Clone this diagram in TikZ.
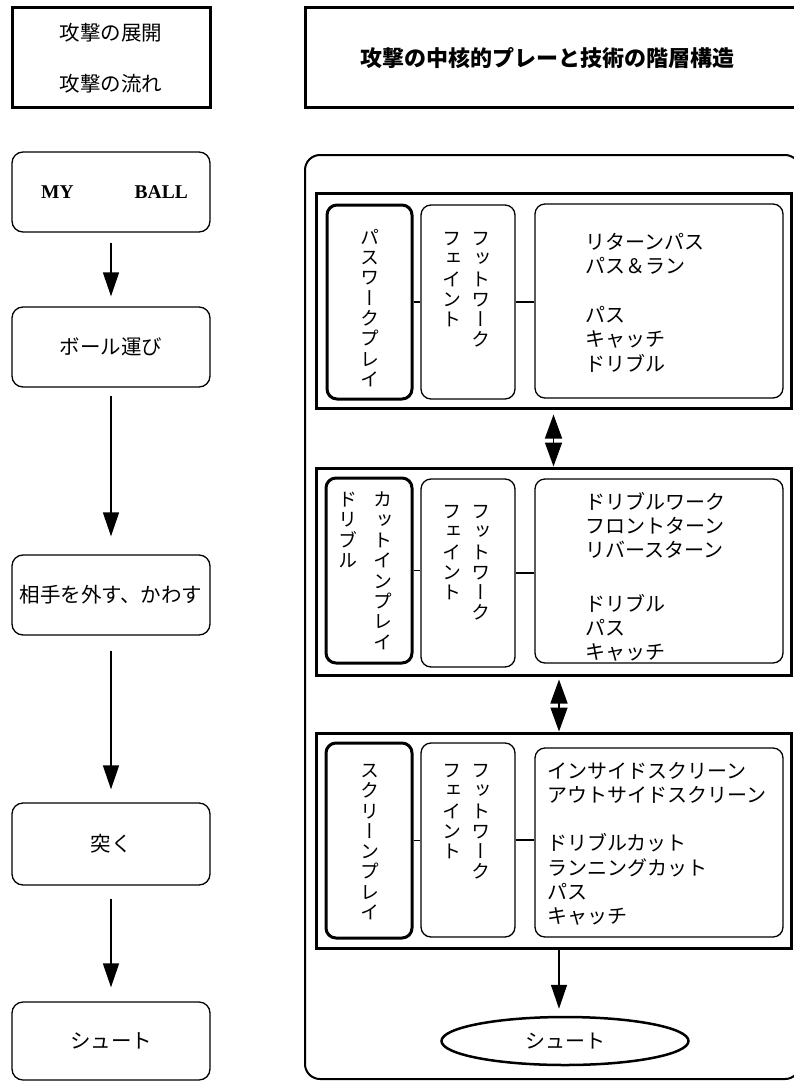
\documentclass[tikz,border=0pt]{standalone}
\usepackage{fontspec}
\setmainfont{Noto Sans CJK JP}
\newfontfamily\vfont[RawFeature=+vert]{Noto Sans CJK JP}
\newfontfamily\serifb{Liberation Serif}
\usetikzlibrary{arrows.meta,shapes.geometric}
\begin{document}
\begin{tikzpicture}[x=1pt,y=-1pt,
  frame/.style={draw, line width=3pt, inner sep=0pt},
  lbox/.style={draw, line width=1.3pt, rounded corners=11pt, inner sep=0pt, minimum width=198, font=\fontsize{20.5}{24}\selectfont},
  thinbox/.style={draw, line width=1.3pt, rounded corners=10pt, inner sep=0pt},
  thickbox/.style={draw, line width=3pt, rounded corners=10pt, inner sep=0pt},
  group/.style={draw, line width=3pt, inner sep=0pt, minimum width=475},
  link/.style={line width=1.3pt},
  flow/.style={-{Triangle[length=24pt,width=16pt]}, line width=1.5pt},
  dbl/.style={{Triangle[length=24pt,width=17pt]}-{Triangle[length=24pt,width=17pt]}, line width=1.5pt},
  vtext/.style={font=\vfont\fontsize{19}{20.3}\selectfont, align=center, inner sep=0pt, anchor=north},
  ltext/.style={font=\fontsize{20}{24.3}\selectfont, align=left, inner sep=0pt, anchor=north west},
  txt/.style={inner sep=0pt}
]
\useasboundingbox (0,0) rectangle (794,1081);
\clip (0,0) rectangle (794,1081);

% top headers
\node[frame, minimum width=198, minimum height=99] (T1) at (111,57.5) {};
\node[txt, align=center, font=\fontsize{20.5}{51}\selectfont] (T1t) at (111,58.5) {攻撃の展開\\攻撃の流れ};
\node[frame, minimum width=495, minimum height=99] (T2) at (552.5,57.5) {};
\node[txt, font=\bfseries\fontsize{22}{26}\selectfont] (T2t) at (547,58) {攻撃の中核的プレーと技術の階層構造};

% left flow
\node[lbox, minimum height=80] (L1) at (111,192) {\serifb\bfseries\fontsize{19.5}{22}\selectfont\hspace{7pt}MY\hspace{61pt}BALL};
\node[lbox, minimum height=80] (L2) at (111,347) {ボール運び};
\node[lbox, minimum height=80] (L3) at (111,595) {相手を外す、かわす};
\node[lbox, minimum height=82] (L4) at (111,844) {突く};
\node[lbox, minimum height=78] (L5) at (111,1041) {シュート};
\draw[flow, shorten <=10pt, shorten >=10pt] (L1) -- (L2);
\draw[flow, shorten <=8pt, shorten >=18pt] (L2) -- (L3);
\draw[flow, shorten <=15pt, shorten >=13pt] (L3) -- (L4);
\draw[flow, shorten <=13pt, shorten >=14pt] (L4) -- (L5);

% outer container
\draw[line width=2pt, rounded corners=15pt] (305,155) rectangle (800,1079);

% group 1
\node[group, minimum height=215] (G1) at (553.5,300.5) {};
\node[thickbox, minimum width=85, minimum height=194] (A1) at (369.5,302) {};
\node[thinbox, minimum width=94, minimum height=194] (B1) at (468,302) {};
\node[thinbox, minimum width=248, minimum height=194] (C1) at (659,301) {};
\draw[link] (A1.east) -- (A1.east -| B1.west);
\draw[link] (B1.east) -- (B1.east -| C1.west);
\node[vtext] (A1t) at (370,229) {パ\\ス\\ワ\\ー\\ク\\プ\\レ\\イ};
\node[vtext] (B1a) at (481,232) {フ\\ッ\\ト\\ワ\\ー\\ク};
\node[vtext] (B1b) at (452,232) {フ\\ェ\\イ\\ン\\ト};
\node[ltext] (C1t) at (585,233) {リターンパス\\パス＆ラン\\[24.5pt]パス\\キャッチ\\ドリブル};

% group 2
\node[group, minimum height=207] (G2) at (553.5,571.5) {};
\node[thickbox, minimum width=86, minimum height=185] (A2) at (369,570.5) {};
\node[thinbox, minimum width=94, minimum height=188] (B2) at (468,573) {};
\node[thinbox, minimum width=248, minimum height=184] (C2) at (659,571) {};
\draw[link] (A2.east) -- (A2.east -| B2.west);
\draw[link] (B2.east) -- (B2.east -| C2.west);
\node[vtext] (A2a) at (383,492) {カ\\ッ\\ト\\イ\\ン\\プ\\レ\\イ};
\node[vtext] (A2b) at (348,492) {ド\\リ\\ブ\\ル};
\node[vtext] (B2a) at (481,505) {フ\\ッ\\ト\\ワ\\ー\\ク};
\node[vtext] (B2b) at (452,505) {フ\\ェ\\イ\\ン\\ト};
\node[ltext] (C2t) at (585,492) {ドリブルワーク\\フロントターン\\リバースターン\\[29pt]ドリブル\\パス\\キャッチ};

% group 3
\node[group, minimum height=215] (G3) at (553.5,840.5) {};
\node[thickbox, minimum width=86, minimum height=195] (A3) at (369,840.5) {};
\node[thinbox, minimum width=94, minimum height=194] (B3) at (468,840) {};
\node[thinbox, minimum width=248, minimum height=189] (C3) at (659,842.5) {};
\draw[link] (A3.east) -- (A3.east -| B3.west);
\draw[link] (B3.east) -- (B3.east -| C3.west);
\node[vtext] (A3t) at (370,764) {ス\\ク\\リ\\ー\\ン\\プ\\レ\\イ};
\node[vtext] (B3a) at (481,764) {フ\\ッ\\ト\\ワ\\ー\\ク};
\node[vtext] (B3b) at (452,764) {フ\\ェ\\イ\\ン\\ト};
\node[ltext] (C3t) at (547,762) {インサイドスクリーン\\アウトサイドスクリーン\\[24pt]ドリブルカット\\ランニングカット\\パス\\キャッチ};

% shoot ellipse
\node[ellipse, draw, line width=2.5pt, minimum width=247, minimum height=48, inner sep=0pt, font=\fontsize{20}{24}\selectfont] (E) at (565,1041) {シュート};

% arrows between groups
\draw[dbl, shorten <=5pt] (G1.south) -- (G1.south |- G2.north);
\draw[dbl, shorten <=3pt] ([xshift=5.5pt]G2.south) -- ([xshift=5.5pt]G2.south |- G3.north);
\draw[flow, shorten >=7pt] ([xshift=5.5pt]G3.south) -- ([xshift=5.5pt]G3.south |- E.north);
\end{tikzpicture}
\end{document}
